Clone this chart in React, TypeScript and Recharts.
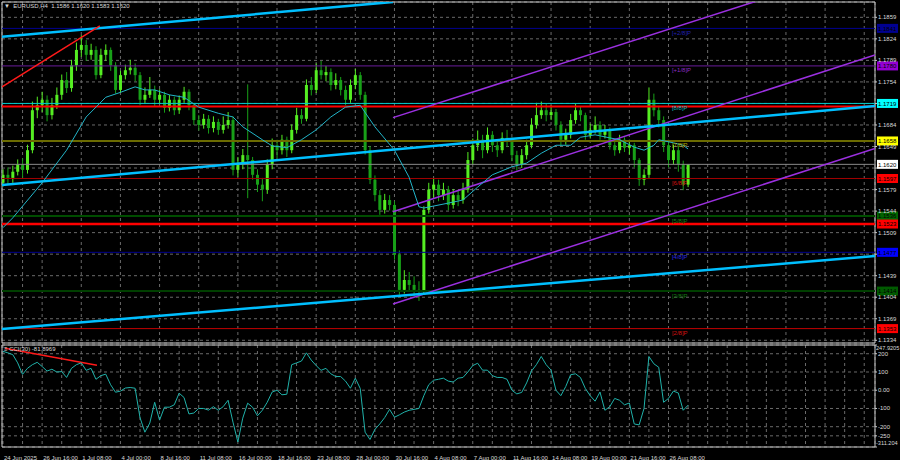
import React from 'react'
import {
  ComposedChart,
  LineChart,
  Line,
  Bar,
  XAxis,
  YAxis,
  CartesianGrid,
  ReferenceLine,
  ReferenceDot,
  ReferenceArea,
} from 'recharts'

// EURUSD H4, one candle here = two H4 bars (8h)
const firstOpen = 1.159
const closes = [
  1.1603, 1.1598, 1.1608, 1.162, 1.1611, 1.1643, 1.1708, 1.1716, 1.1725, 1.17,
  1.1716, 1.1733, 1.1757, 1.1744, 1.1781, 1.1806, 1.1814, 1.1798, 1.1806, 1.1765,
  1.1798, 1.1806, 1.1781, 1.1741, 1.1765, 1.1773, 1.1777, 1.1765, 1.1725, 1.1733,
  1.1741, 1.1725, 1.1733, 1.1712, 1.1725, 1.1708, 1.1725, 1.1738, 1.1716, 1.1692,
  1.1684, 1.1694, 1.1679, 1.1689, 1.1676, 1.1684, 1.1692, 1.1611, 1.162, 1.1635,
  1.1627, 1.1603, 1.1587, 1.1579, 1.162, 1.1651, 1.1643, 1.166, 1.1643, 1.1676,
  1.17, 1.1694, 1.1749, 1.1741, 1.1773, 1.1765, 1.177, 1.1749, 1.1757, 1.1741,
  1.1725, 1.1749, 1.1765, 1.1733, 1.1643, 1.1595, 1.157, 1.1546, 1.1562, 1.1554,
  1.1473, 1.1416, 1.1432, 1.1424, 1.1416, 1.1413, 1.1546, 1.1579, 1.1587, 1.157,
  1.1579, 1.1554, 1.157, 1.1562, 1.1579, 1.1627, 1.1651, 1.166, 1.1643, 1.1668,
  1.1651, 1.1643, 1.1663, 1.166, 1.1635, 1.162, 1.1635, 1.1651, 1.1684, 1.17,
  1.1708, 1.17, 1.1705, 1.1684, 1.166, 1.1668, 1.1692, 1.1708, 1.17, 1.1668,
  1.1676, 1.1684, 1.1668, 1.1676, 1.1651, 1.1643, 1.166, 1.1647, 1.1651, 1.1627,
  1.1595, 1.1603, 1.1725, 1.1708, 1.1692, 1.1651, 1.1627, 1.1643, 1.162, 1.1587,
  1.162,
]
const highs = [
  1.1612, 1.1615, 1.1618, 1.1628, 1.163, 1.1652, 1.1722, 1.173, 1.1738, 1.1732,
  1.1728, 1.1745, 1.1766, 1.177, 1.179, 1.1818, 1.183, 1.1822, 1.1816, 1.1812,
  1.1808, 1.1815, 1.181, 1.1786, 1.1772, 1.1782, 1.179, 1.1784, 1.177, 1.1745,
  1.1762, 1.1748, 1.1742, 1.1738, 1.1733, 1.173, 1.1732, 1.1746, 1.1742, 1.172,
  1.17, 1.1702, 1.17, 1.1698, 1.1694, 1.1698, 1.1705, 1.1698, 1.1632, 1.1645,
  1.175, 1.1632, 1.1612, 1.1598, 1.1628, 1.1662, 1.166, 1.1668, 1.1665, 1.1685,
  1.1712, 1.171, 1.1758, 1.1762, 1.1784, 1.1788, 1.178, 1.1776, 1.1768, 1.1762,
  1.1748, 1.1758, 1.1775, 1.177, 1.1738, 1.165, 1.1602, 1.1578, 1.1572, 1.157,
  1.156, 1.148, 1.1448, 1.1445, 1.1438, 1.143, 1.1552, 1.159, 1.1598, 1.1595,
  1.159, 1.1585, 1.158, 1.1578, 1.159, 1.164, 1.1662, 1.1675, 1.1668, 1.168,
  1.1674, 1.1658, 1.1672, 1.1676, 1.1664, 1.1642, 1.1645, 1.166, 1.1695, 1.172,
  1.1722, 1.1718, 1.1716, 1.171, 1.169, 1.1678, 1.1702, 1.1718, 1.1714, 1.1704,
  1.1686, 1.1698, 1.169, 1.1684, 1.168, 1.1658, 1.1668, 1.1664, 1.166, 1.1655,
  1.163, 1.1612, 1.1745, 1.1735, 1.1715, 1.1698, 1.166, 1.1652, 1.165, 1.1626,
  1.162,
]
const lows = [
  1.1584, 1.1588, 1.159, 1.1602, 1.1598, 1.1605, 1.1638, 1.1695, 1.1705, 1.169,
  1.1693, 1.171, 1.1725, 1.1736, 1.1738, 1.1772, 1.1795, 1.1788, 1.179, 1.1758,
  1.176, 1.1788, 1.1772, 1.1735, 1.1736, 1.1758, 1.1766, 1.1755, 1.1716, 1.1718,
  1.1728, 1.1715, 1.1718, 1.1704, 1.1706, 1.17, 1.1702, 1.172, 1.1708, 1.1684,
  1.1675, 1.1678, 1.167, 1.1672, 1.1668, 1.167, 1.1678, 1.1602, 1.16, 1.1612,
  1.1565, 1.1595, 1.1575, 1.156, 1.1572, 1.1612, 1.163, 1.1636, 1.1632, 1.1638,
  1.167, 1.1686, 1.169, 1.1732, 1.1736, 1.1758, 1.1755, 1.174, 1.1742, 1.1732,
  1.1716, 1.172, 1.1742, 1.1725, 1.1636, 1.1588, 1.156, 1.1538, 1.154, 1.1545,
  1.1465, 1.1408, 1.141, 1.1415, 1.1405, 1.1398, 1.1408, 1.154, 1.1565, 1.156,
  1.1562, 1.1545, 1.1548, 1.1552, 1.1556, 1.1574, 1.162, 1.1642, 1.163, 1.1638,
  1.164, 1.1632, 1.1638, 1.1648, 1.1625, 1.161, 1.1614, 1.1628, 1.1646, 1.1678,
  1.1694, 1.169, 1.1692, 1.1675, 1.165, 1.1652, 1.1662, 1.1686, 1.169, 1.166,
  1.1662, 1.167, 1.166, 1.1662, 1.1644, 1.1634, 1.1638, 1.164, 1.1636, 1.1615,
  1.1585, 1.1586, 1.1598, 1.1698, 1.168, 1.164, 1.1615, 1.162, 1.1608, 1.1578,
  1.1583,
]
// moving average read at some bars: [bar, value]
const maSamples: [number, number][] = [
  [0, 1.1517], [2, 1.1533], [8, 1.159], [13, 1.1643], [17, 1.1697], [21, 1.1729],
  [24, 1.1737], [27, 1.1746], [29, 1.1741], [31, 1.1741], [34, 1.1733], [37, 1.1729],
  [40, 1.1713], [44, 1.1703], [47, 1.1697], [49, 1.1681], [53, 1.166], [55, 1.165],
  [58, 1.1647], [61, 1.166], [64, 1.1676], [67, 1.1697], [70, 1.1713], [73, 1.1716],
  [76, 1.1681], [80, 1.1643], [83, 1.1599], [85, 1.1551], [86, 1.1549], [91, 1.1557],
  [94, 1.1562], [97, 1.1583], [100, 1.1603], [104, 1.1616], [107, 1.1622], [110, 1.1638],
  [113, 1.1651], [116, 1.1651], [118, 1.1664], [121, 1.1668], [124, 1.1663], [126, 1.166],
  [129, 1.1648], [131, 1.1643], [133, 1.1651], [134, 1.166], [137, 1.1655], [139, 1.1651],
  [140, 1.1645],
]
const cci = [
  213, 205, 195, 150, 87, 120, 140, 153, 130, 105, 115, 100, 102, 70, 120, 140, 150,
  109, 120, 60, 80, 88, 30, -11, -5, 12, 15, 11, -150, -230, -180, -66, -164, -93,
  -93, -80, -16, -40, -130, -125, -100, -100, -109, -90, -110, -90, -55, -175, -284,
  -153, -71, -93, -140, -110, -66, -10, 0, -25, -22, 140, 150, 160, 205, 165, 135,
  109, 120, 90, 75, 75, 50, 11, 66, 10, -230, -270, -215, -185, -150, -105, -148,
  -135, -120, -110, -105, -100, -30, 30, 55, 60, 66, 50, 45, 66, 70, 100, 135, 148,
  110, 110, 80, 70, 70, 60, 0, -20, -12, 40, 105, 140, 185, 140, 110, 0, -30, 20, 85,
  90, 70, 10, -30, -60, -10, -110, -90, -45, -55, -80, -70, -185, -190, -100, 185,
  145, 126, -66, -45, -5, -15, -110, -82,
]
const dateLabels = [
  '24 Jun 2025', '26 Jun 16:00', '1 Jul 08:00', '4 Jul 00:00', '8 Jul 16:00',
  '11 Jul 08:00', '16 Jul 00:00', '18 Jul 16:00', '23 Jul 08:00', '28 Jul 00:00',
  '30 Jul 16:00', '4 Aug 08:00', '7 Aug 00:00', '11 Aug 16:00', '14 Aug 08:00',
  '19 Aug 00:00', '21 Aug 16:00', '26 Aug 08:00',
]
const priceTicks = [
  1.1334, 1.1369, 1.1404, 1.1439, 1.1474, 1.1509, 1.1544, 1.1579, 1.1614, 1.1649,
  1.1684, 1.1719, 1.1754, 1.1789, 1.1824, 1.1859,
]
const cciTicks = [-311.204, -250, -200, -100, 0, 100, 200, 247.9205]
const cciTickText = ['-311.204', '-250', '-200', '-100', '0.00', '100', '200', '247.9205']

// murrey levels and their names
const murreyPrices = [1.1841, 1.178, 1.1719, 1.1658, 1.1597, 1.1536, 1.1477, 1.1414, 1.1353]
const murreyNames = ['[+2/8]P', '[+1/8]P', '[8/8]P', '[7/8]P', '[6/8]P', '[5/8]P', '[4/8]P', '[3/8]P', '[2/8]P']
const bidPrice = 1.162
const redLevels = [1.1714, 1.1523]

// trend lines: [bar1, price1, bar2, price2]
const blueTrends = [
  [-0.6, 1.1827, 79.7, 1.1884],
  [-0.6, 1.1586, 178.2, 1.1715],
  [-0.6, 1.1352, 178.2, 1.1471],
]
const redTrend = [-0.6, 1.1744, 19.8, 1.1845]
const channel = [
  [79.7, 1.1696, 178.2, 1.1947],
  [79.7, 1.1543, 178.2, 1.1798],
  [79.7, 1.1393, 178.2, 1.1646],
]
const cciTrend = [0.4, 229.5, 19.2, 136.6]

const X_DOMAIN: [number, number] = [-0.2, 178.2]
const P_DOMAIN: [number, number] = [1.13296, 1.18839]
const C_DOMAIN: [number, number] = [-311.204, 247.9205]
const gridTicks = Array.from({ length: 45 }, (_, k) => k * 4)

const UP = '#55ee22'
const DOWN = '#18a018'
const TXT = '#d8d8d8'
const murreyLine = ['#000090', '#6a1b9a', '#00c8c8', '#6b6b00', '#a00000', '#004d00', '#000090', '#003f00', '#c00000']
const murreyText = ['#2020b0', '#8e2cc0', '#10b8b8', '#b0b000', '#d01010', '#108a10', '#2a2ae0', '#107a10', '#d01010']
const murreyBox = ['#000090', '#9400d3', '#00ffff', '#ffff00', '#ff0000', '#006400', '#0000ff', '#005a00', '#ff0000']
const boxPrices = [...murreyPrices, bidPrice, redLevels[1]]

const rows = closes.map((close, i) => ({
  i,
  open: i === 0 ? firstOpen : closes[i - 1],
  high: highs[i],
  low: lows[i],
  close,
  ma: null as number | null,
}))
for (const [bar, v] of maSamples) rows[bar].ma = v

const cciRows = cci.map((v, i) => ({ i, cci: v }))

function Candle(props: any) {
  const { x, y, width, height, payload } = props
  if (payload == null || height == null) return null
  const { open, close, high, low } = payload
  const k = height / (high - low || 1)
  const top = y + (high - Math.max(open, close)) * k
  const bot = y + (high - Math.min(open, close)) * k
  const cx = x + width / 2
  const color = close >= open ? UP : DOWN
  return (
    <g>
      <line x1={cx} x2={cx} y1={y} y2={y + height} stroke={color} strokeWidth={1} />
      <rect x={x} y={top} width={width} height={Math.max(1, bot - top)} fill={color} />
    </g>
  )
}

const priceBox = (bg: string, text: string) => (props: any) => {
  const vb = props.viewBox
  if (!vb) return null
  const x = vb.x + vb.width + 2
  return (
    <g>
      <rect x={x} y={vb.y - 4.5} width={21} height={9} fill={bg} />
      <text x={x + 1} y={vb.y + 2.3} fontSize={6} fill='#000'>
        {text}
      </text>
    </g>
  )
}

const levelText = (color: string, text: string) => (props: any) => {
  const vb = props.viewBox
  if (!vb) return null
  return (
    <text x={vb.x} y={vb.y + 6.5} fontSize={6} fill={color}>
      {text}
    </text>
  )
}

// price ticks hidden behind a coloured price box are not written
function PriceTick(props: any) {
  const { x, y, payload } = props
  const v = payload.value
  if (boxPrices.some((p) => Math.abs(p - v) < 0.0007)) return null
  return (
    <text x={x} y={y + 2} fontSize={6} fill={TXT} textAnchor='start'>
      {v.toFixed(4)}
    </text>
  )
}

function DateTick(props: any) {
  const { x, y, payload } = props
  const v = payload.value
  if (v % 8 !== 0 || v / 8 >= dateLabels.length) return null
  return (
    <text x={x + 1} y={y + 5} fontSize={6} fill={TXT} textAnchor='start'>
      {dateLabels[v / 8]}
    </text>
  )
}

function CciTick(props: any) {
  const { x, y, payload } = props
  const idx = cciTicks.findIndex((t) => Math.abs(t - payload.value) < 0.01)
  if (idx < 0) return null
  const edge = idx === 0 || idx === cciTicks.length - 1
  const dy = idx === 0 ? -4 : idx === cciTicks.length - 1 ? 3 : 0
  return (
    <text x={x - (edge ? 2 : 0)} y={y + dy + 2} fontSize={edge ? 5.6 : 6} fill={TXT} textAnchor='start'>
      {cciTickText[idx]}
    </text>
  )
}

function seg(t: number[]) {
  return [
    { x: t[0], y: t[1] },
    { x: t[2], y: t[3] },
  ] as any
}

export default function App() {
  return (
    <div
      style={{
        position: 'absolute',
        left: 0,
        top: 0,
        width: 900,
        height: 460,
        background: '#000',
        overflow: 'hidden',
        fontFamily: '"Liberation Sans", Arial, sans-serif',
      }}
    >
      <div style={{ position: 'absolute', top: 0, left: 0 }}>
        <ComposedChart width={900} height={345} data={rows} margin={{ top: 2, right: 0, bottom: 2, left: 2 }}>
          <CartesianGrid stroke='#6a6a6a' strokeDasharray='3 3' />
          <XAxis dataKey='i' type='number' domain={X_DOMAIN} allowDataOverflow ticks={gridTicks} hide />
          <YAxis
            orientation='right'
            width={25}
            domain={P_DOMAIN}
            allowDataOverflow
            ticks={priceTicks}
            interval={0}
            axisLine={false}
            tickSize={2}
            tickMargin={1}
            tickLine={{ stroke: '#c8c8c8' }}
            tick={PriceTick}
          />
          {murreyPrices.map((p, k) => (
            <ReferenceLine
              key={'m' + k}
              y={p}
              stroke={murreyLine[k]}
              strokeWidth={k === 3 || k === 5 || k === 7 ? 2 : 1}
              label={priceBox(murreyBox[k], p.toFixed(4))}
            />
          ))}
          <ReferenceLine y={bidPrice} stroke='#8a8a8a' strokeWidth={1} label={priceBox('#ffffff', bidPrice.toFixed(4))} />
          <ReferenceLine y={redLevels[0]} stroke='#ff0000' strokeWidth={2} />
          <ReferenceLine y={redLevels[1]} stroke='#ff0000' strokeWidth={2.5} label={priceBox('#ff0000', redLevels[1].toFixed(4))} />
          {murreyPrices.map((p, k) => (
            <ReferenceDot
              key={'t' + k}
              x={136.7}
              y={p}
              r={0}
              stroke='none'
              fill='none'
              label={levelText(murreyText[k], murreyNames[k])}
            />
          ))}
          {channel.map((t, k) => (
            <ReferenceLine key={'c' + k} segment={seg(t)} stroke='#9b30e0' strokeWidth={1.5} ifOverflow='hidden' />
          ))}
          {blueTrends.map((t, k) => (
            <ReferenceLine key={'b' + k} segment={seg(t)} stroke='#00bfff' strokeWidth={2.5} ifOverflow='hidden' />
          ))}
          <ReferenceLine segment={seg(redTrend)} stroke='#ff1a1a' strokeWidth={1.5} ifOverflow='hidden' />
          <Bar
            dataKey={(d: any) => [d.low, d.high]}
            barSize={3}
            shape={Candle}
            isAnimationActive={false}
          />
          <Line
            dataKey='ma'
            type='linear'
            stroke='#22b4c8'
            strokeWidth={1}
            dot={false}
            connectNulls
            isAnimationActive={false}
          />
          <ReferenceArea x1={X_DOMAIN[0]} x2={X_DOMAIN[1]} y1={P_DOMAIN[0]} y2={P_DOMAIN[1]} fill='none' stroke='#c8c8c8' strokeWidth={1} />
        </ComposedChart>
      </div>
      <div style={{ position: 'absolute', top: 343, left: 0 }}>
        <LineChart width={900} height={117} data={cciRows} margin={{ top: 2, right: 0, bottom: 0, left: 2 }}>
          <CartesianGrid stroke='#6a6a6a' strokeDasharray='3 3' />
          <XAxis
            dataKey='i'
            type='number'
            domain={X_DOMAIN}
            allowDataOverflow
            ticks={gridTicks}
            interval={0}
            height={13}
            axisLine={false}
            tickLine={false}
            tick={DateTick}
          />
          <YAxis
            orientation='right'
            width={25}
            domain={C_DOMAIN}
            allowDataOverflow
            ticks={cciTicks}
            interval={0}
            axisLine={false}
            tickSize={2}
            tickMargin={1}
            tickLine={{ stroke: '#c8c8c8' }}
            tick={CciTick}
          />
          <ReferenceLine segment={seg(cciTrend)} stroke='#ff1a1a' strokeWidth={1.5} ifOverflow='hidden' />
          <Line dataKey='cci' type='linear' stroke='#20b2aa' strokeWidth={1} dot={false} isAnimationActive={false} />
          <ReferenceArea x1={X_DOMAIN[0]} x2={X_DOMAIN[1]} y1={C_DOMAIN[0]} y2={C_DOMAIN[1]} fill='none' stroke='#c8c8c8' strokeWidth={1} />
        </LineChart>
      </div>
      <div style={{ position: 'absolute', left: 4, top: 3, fontSize: 6, color: TXT, whiteSpace: 'pre', lineHeight: '7px' }}>
        {'▼  EURUSD,H4  1.1586 1.1620 1.1583 1.1620'}
      </div>
      <div style={{ position: 'absolute', left: 4, top: 346, fontSize: 6, color: TXT, whiteSpace: 'pre', lineHeight: '7px' }}>
        {'≡ CCI(30) -81.8969'}
      </div>
    </div>
  )
}
